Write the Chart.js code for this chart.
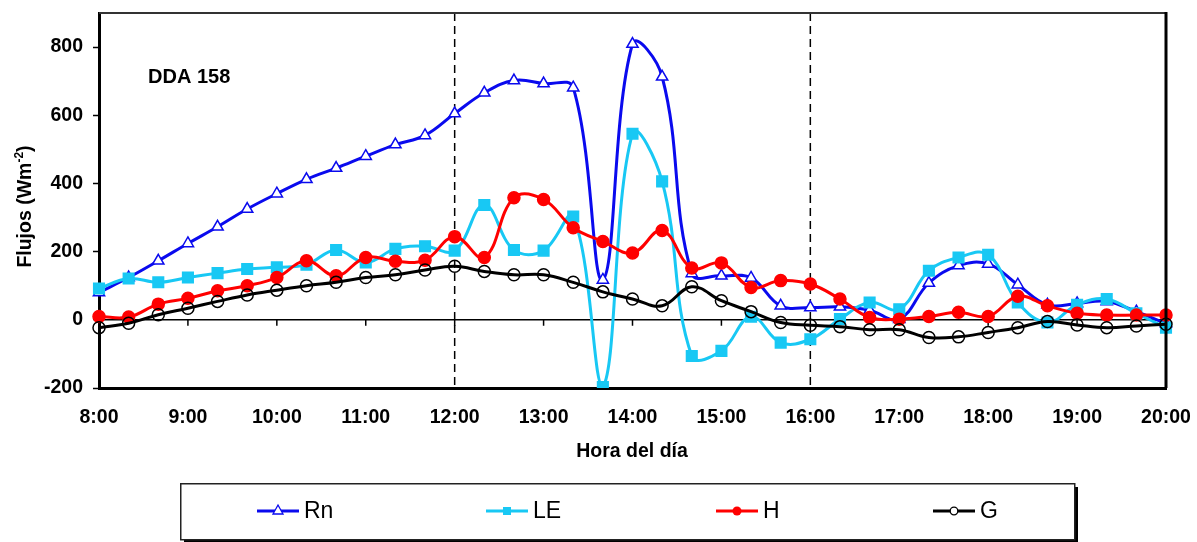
<!DOCTYPE html>
<html>
<head>
<meta charset="utf-8">
<script src="https://cdn.jsdelivr.net/npm/chart.js@4"></script>
<style>
html,body{margin:0;padding:0;background:#fff;}
canvas{display:block;}
</style>
</head>
<body>
<canvas id="c" width="1197" height="542"></canvas>
<script>
const times = ["8:00","8:20","8:40","9:00","9:20","9:40","10:00","10:20","10:40","11:00","11:20","11:40",
  "12:00","12:20","12:40","13:00","13:20","13:40","14:00","14:20","14:40","15:00","15:20","15:40",
  "16:00","16:20","16:40","17:00","17:20","17:40","18:00","18:20","18:40","19:00","19:20","19:40","20:00"];
const rn = [80,124,173,224,273,325,370,412,445,480,514,541,605,666,702,693,681,117,809,713,136,129,123,41,36,38,28,2,108,159,164,103,44,48,54,24,-11];
const le = [92,121,110,124,137,149,154,162,205,168,208,216,203,337,205,203,303,-197,546,406,-106,-91,9,-67,-57,2,51,31,144,183,191,51,-8,44,61,19,-23];
const h  = [10,8,46,63,85,100,124,173,129,183,172,175,244,183,358,353,270,230,196,262,152,167,95,115,105,61,7,2,10,22,10,69,41,19,14,14,14];
const g  = [-23,-10,15,34,54,73,87,100,110,124,132,146,157,142,132,132,110,82,61,41,97,56,24,-8,-16,-20,-29,-29,-52,-50,-37,-23,-5,-15,-23,-18,-13];
const hourLabels = ["8:00","9:00","10:00","11:00","12:00","13:00","14:00","15:00","16:00","17:00","18:00","19:00","20:00"];
const yTicks = [-200,0,200,400,600,800];
const markerTimes = ["12:00","16:00"];
const seriesNames = ["Rn","LE","H","G"];

const FONT = "'Liberation Sans', Arial, sans-serif";

const extras = {
  id: 'extras',
  beforeDatasetsDraw(chart) {
    const {ctx, chartArea: a, scales: {x, y}} = chart;
    ctx.save();
    const y0 = y.getPixelForValue(0);
    ctx.strokeStyle = '#000';
    ctx.lineWidth = 1.5;
    ctx.beginPath();
    ctx.moveTo(a.left, y0); ctx.lineTo(a.right, y0);
    hourLabels.forEach(l => {
      const px = x.getPixelForValue(times.indexOf(l));
      ctx.moveTo(px, y0); ctx.lineTo(px, y0 + 6);
    });
    ctx.stroke();
    ctx.setLineDash([8, 5]);
    ctx.lineWidth = 1.5;
    markerTimes.forEach(t => {
      const px = x.getPixelForValue(times.indexOf(t));
      ctx.beginPath();
      ctx.moveTo(px, a.top); ctx.lineTo(px, a.bottom);
      ctx.stroke();
    });
    ctx.restore();
  },
  afterDraw(chart) {
    const {ctx, chartArea: a} = chart;
    ctx.save();
    ctx.strokeStyle = '#333';
    ctx.lineWidth = 2;
    ctx.beginPath(); ctx.moveTo(a.left, a.top); ctx.lineTo(a.right, a.top); ctx.stroke();
    ctx.strokeStyle = '#000';
    ctx.lineWidth = 3;
    ctx.beginPath(); ctx.moveTo(a.right, a.top - 1); ctx.lineTo(a.right, a.bottom); ctx.stroke();

    ctx.fillStyle = '#000';
    ctx.font = "bold 20px " + FONT;
    ctx.textAlign = 'left'; ctx.textBaseline = 'alphabetic';
    ctx.fillText("DDA 158", 148, 83);

    ctx.font = "bold 19.5px " + FONT;
    ctx.textAlign = 'center'; ctx.textBaseline = 'middle';
    ctx.fillText("Hora del día", 632, 452);

    ctx.save();
    ctx.translate(24, (a.top + a.bottom) / 2 + 6);
    ctx.rotate(-Math.PI / 2);
    const p1 = "Flujos (Wm", sup = "-2", p2 = ")";
    ctx.font = "bold 19.5px " + FONT;
    const w1 = ctx.measureText(p1).width, w3 = ctx.measureText(p2).width;
    ctx.font = "bold 12px " + FONT;
    const w2 = ctx.measureText(sup).width;
    let sx = -(w1 + w2 + w3) / 2;
    ctx.textAlign = 'left'; ctx.textBaseline = 'alphabetic';
    ctx.font = "bold 19.5px " + FONT;
    ctx.fillText(p1, sx, 7);
    ctx.font = "bold 12px " + FONT;
    ctx.fillText(sup, sx + w1, -1);
    ctx.font = "bold 19.5px " + FONT;
    ctx.fillText(p2, sx + w1 + w2, 7);
    ctx.restore();

    ctx.fillStyle = '#000';
    ctx.fillRect(184, 540, 894, 3);
    ctx.fillRect(1075, 487, 3, 56);
    ctx.fillStyle = '#fff';
    ctx.fillRect(181, 484, 893, 55);
    ctx.strokeStyle = '#222';
    ctx.lineWidth = 1.5;
    ctx.strokeRect(180.75, 483.75, 894, 56);

    const lx = [257, 486, 716, 933];
    const ly = 511;
    chart.data.datasets.forEach((ds, i) => {
      const x0 = lx[i];
      ctx.strokeStyle = ds.borderColor;
      ctx.lineWidth = 3;
      ctx.beginPath(); ctx.moveTo(x0, ly); ctx.lineTo(x0 + 42, ly); ctx.stroke();
      const cx = x0 + 21;
      ctx.lineWidth = 1.3;
      if (i === 0) {
        ctx.fillStyle = '#fff'; ctx.strokeStyle = ds.borderColor;
        ctx.beginPath(); ctx.moveTo(cx, ly - 6); ctx.lineTo(cx + 5, ly + 3); ctx.lineTo(cx - 5, ly + 3); ctx.closePath();
        ctx.fill(); ctx.stroke();
      } else if (i === 1) {
        ctx.fillStyle = ds.borderColor;
        ctx.fillRect(cx - 4, ly - 4, 8, 8);
      } else if (i === 2) {
        ctx.fillStyle = ds.borderColor;
        ctx.beginPath(); ctx.arc(cx, ly, 4.5, 0, Math.PI * 2); ctx.fill();
      } else {
        ctx.fillStyle = '#fff'; ctx.strokeStyle = '#000';
        ctx.beginPath(); ctx.arc(cx, ly, 3.8, 0, Math.PI * 2); ctx.fill(); ctx.stroke();
      }
      ctx.fillStyle = '#000';
      ctx.font = "23px " + FONT;
      ctx.textAlign = 'left'; ctx.textBaseline = 'middle';
      ctx.fillText(ds.label, x0 + 47, ly + 1);
    });
    ctx.restore();
  }
};

const common = { borderWidth: 3, tension: 0.4, pointBorderWidth: 1.5, pointHoverRadius: 6 };

new Chart(document.getElementById('c'), {
  type: 'line',
  data: {
    labels: times,
    datasets: [
      Object.assign({}, common, { label: seriesNames[0], data: rn, borderColor: '#0a0aee', pointStyle: 'triangle', pointRadius: 6.5, pointBackgroundColor: '#fff', pointBorderColor: '#0a0aee', order: 4 }),
      Object.assign({}, common, { label: seriesNames[1], data: le, borderColor: '#18c8f4', pointStyle: 'rect', pointRadius: 7.5, pointBackgroundColor: '#18c8f4', pointBorderColor: '#18c8f4', order: 3 }),
      Object.assign({}, common, { label: seriesNames[2], data: h, borderColor: '#ff0000', pointStyle: 'circle', pointRadius: 6, pointBackgroundColor: '#ff0000', pointBorderColor: '#ff0000', order: 2 }),
      Object.assign({}, common, { label: seriesNames[3], data: g, borderColor: '#000000', pointStyle: 'circle', pointRadius: 6, pointBackgroundColor: 'rgba(0,0,0,0)', pointBorderColor: '#000', order: 1 })
    ]
  },
  options: {
    responsive: false,
    animation: false,
    events: [],
    layout: { padding: { left: 0, right: 31, top: 13, bottom: 0 } },
    plugins: { legend: { display: false }, tooltip: { enabled: false } },
    scales: {
      x: {
        type: 'category',
        offset: false,
        afterFit: s => { s.height = 542 - 388; s.paddingLeft = 0; s.paddingRight = 0; s.paddingTop = 0; s.paddingBottom = 0; },
        grid: { display: true, drawOnChartArea: false, drawTicks: false },
        border: { display: true, color: '#000', width: 3 },
        ticks: {
          autoSkip: false, maxRotation: 0, padding: 18, color: '#000',
          font: { family: FONT, size: 19.5, weight: 'bold' },
          callback: (v, i) => hourLabels.includes(times[i]) ? times[i] : ''
        }
      },
      y: {
        min: -200, max: 900,
        afterFit: s => { s.width = 99; s.paddingTop = 0; s.paddingBottom = 0; s.paddingLeft = 0; s.paddingRight = 0; },
        afterBuildTicks: s => { s.ticks = yTicks.map(v => ({ value: v })); },
        grid: { display: true, drawOnChartArea: false, drawTicks: true, tickLength: 6, color: '#000', tickWidth: 1.5 },
        border: { display: true, color: '#000', width: 3 },
        ticks: { padding: 10, color: '#000', font: { family: FONT, size: 19.5, weight: 'bold' } }
      }
    }
  },
  plugins: [extras]
});
</script>
</body>
</html>
